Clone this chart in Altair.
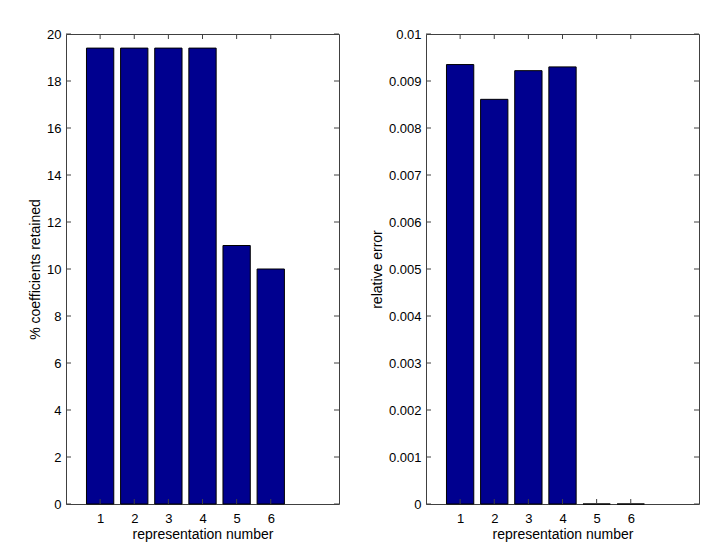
import altair as alt
import pandas as pd

# ---- data ----
reps = [1, 2, 3, 4, 5, 6]
pct_retained = [19.4, 19.4, 19.4, 19.4, 11.0, 10.0]
rel_error = [0.00935, 0.00861, 0.00922, 0.0093, 0.0, 0.0]

x_ticks = [1, 2, 3, 4, 5, 6]
x_domain = [0, 8]
y_ticks_left = [0, 2, 4, 6, 8, 10, 12, 14, 16, 18, 20]
y_ticks_right = [0, 0.001, 0.002, 0.003, 0.004, 0.005, 0.006, 0.007, 0.008, 0.009, 0.01]

x_title = "representation number"
y_title_left = "% coefficients retained"
y_title_right = "relative error"

BAR_COLOR = "#00008F"
FRAME = "#404040"
W, H = 273, 470
TICK = 5
FONT = "Liberation Sans"


def panel(values, yticks, ytitle):
    df = pd.DataFrame({"rep": reps, "val": values})
    sx = alt.Scale(domain=x_domain, nice=False, zero=False)
    sy = alt.Scale(domain=[yticks[0], yticks[-1]], nice=False)
    ax = alt.Axis(values=x_ticks, title=x_title, format="d")
    ay = alt.Axis(values=yticks, title=ytitle, format="~g")

    bars = (
        alt.Chart(df)
        .transform_calculate(x0="datum.rep - 0.4", x1="datum.rep + 0.4")
        .mark_bar(color=BAR_COLOR, stroke="black", strokeWidth=1)
        .encode(
            x=alt.X("x0:Q", scale=sx, axis=ax),
            x2="x1:Q",
            y=alt.Y("val:Q", scale=sy, axis=ay),
            y2=alt.datum(0),
        )
    )

    tx = pd.DataFrame({"t": x_ticks})
    ty = pd.DataFrame({"t": yticks})
    xb = alt.Chart(tx).mark_rule(color=FRAME).encode(
        x=alt.X("t:Q", scale=sx, axis=ax), y=alt.value(H - TICK), y2=alt.value(H))
    xt = alt.Chart(tx).mark_rule(color=FRAME).encode(
        x=alt.X("t:Q", scale=sx, axis=ax), y=alt.value(0), y2=alt.value(TICK))
    yl = alt.Chart(ty).mark_rule(color=FRAME).encode(
        y=alt.Y("t:Q", scale=sy, axis=ay), x=alt.value(0), x2=alt.value(TICK))
    yr = alt.Chart(ty).mark_rule(color=FRAME).encode(
        y=alt.Y("t:Q", scale=sy, axis=ay), x=alt.value(W - TICK), x2=alt.value(W))

    return alt.layer(bars, xb, xt, yl, yr).properties(width=W, height=H)


left = panel(pct_retained, y_ticks_left, y_title_left)
right = panel(rel_error, y_ticks_right, y_title_right)

chart = (
    alt.hconcat(left, right, spacing=87, bounds="flush")
    .properties(padding={"left": 20, "top": 19, "right": 5, "bottom": 0})
    .configure_axis(
        grid=False, domain=False, ticks=False,
        labelFont=FONT, labelFontSize=13, labelColor="black",
        titleFont=FONT, titleFontSize=14, titleFontWeight="normal", titleColor="black",
    )
    .configure_axisX(labelPadding=8, titlePadding=2)
    .configure_axisY(labelPadding=5, titlePadding=4)
    .configure_view(stroke=FRAME, strokeWidth=1)
)

chart.save("out.html", embed_options={"renderer": "svg", "actions": False})
